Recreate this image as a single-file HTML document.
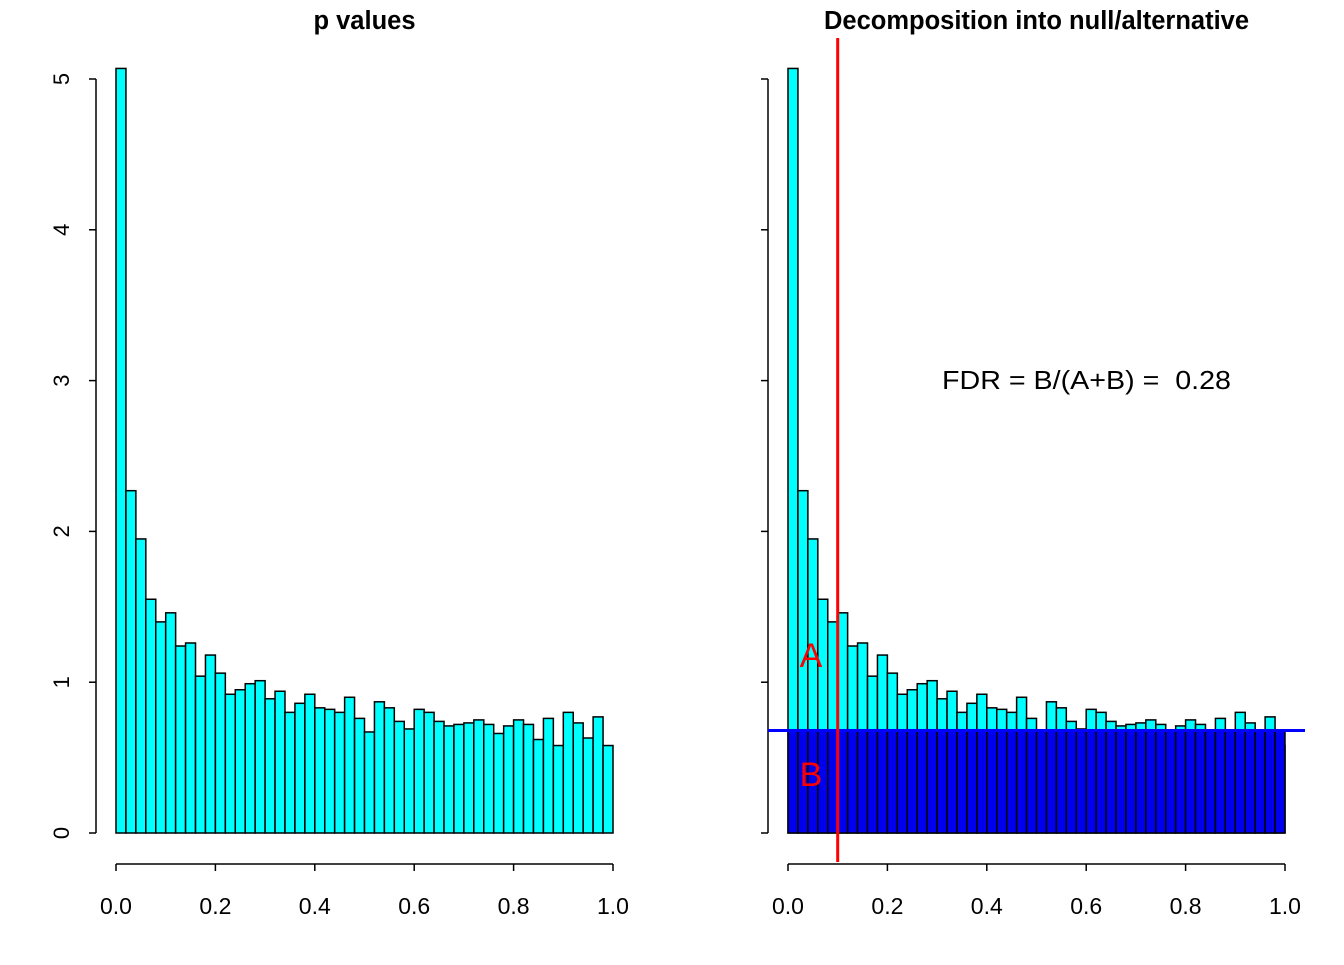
<!DOCTYPE html>
<html><head><meta charset="utf-8"><style>
body{margin:0;background:#fff}
text{font-family:"Liberation Sans",Arial,sans-serif;white-space:pre}
</style></head><body>
<svg id="c" width="1344" height="960" xmlns="http://www.w3.org/2000/svg"></svg>
<script>
const density=[5.07,2.27,1.95,1.55,1.40,1.46,1.24,1.26,1.04,1.18,1.06,0.92,0.95,0.99,1.01,0.89,0.94,0.80,0.86,0.92,0.83,0.82,0.80,0.90,0.76,0.67,0.87,0.83,0.74,0.69,0.82,0.80,0.74,0.71,0.72,0.73,0.75,0.72,0.66,0.71,0.75,0.72,0.62,0.76,0.58,0.80,0.73,0.63,0.77,0.58];
const nullLevel=0.68;
const threshold=0.1;
const xTicks=["0.0","0.2","0.4","0.6","0.8","1.0"];
const yTicks=[0,1,2,3,4,5];
const fdrValue="0.28";

const svg=document.getElementById('c');
const NS="http://www.w3.org/2000/svg";
function mk(t,a,p){const e=document.createElementNS(NS,t);for(const k in a)e.setAttribute(k,a[k]);(p||svg).appendChild(e);return e;}
const y=v=>833-v*150.8;
function panel(x0,name,title,decomp){
  const g=mk('g',{});
  
  
  const x=v=>x0+v*497;
  const n=density.length;
  density.forEach((d,i)=>{
    const r=mk('rect',{x:x(i/n),y:y(d),width:497/n,height:y(0)-y(d),fill:'#00FFFF',stroke:'#000','stroke-width':1.5},g);
    
    
  });
  if(decomp){
    density.forEach((d,i)=>{
      const r=mk('rect',{x:x(i/n),y:y(nullLevel),width:497/n,height:y(0)-y(nullLevel),fill:'#0000EE',stroke:'#000','stroke-width':1.5},g);
      
      
    });
  }
  const t=mk('text',{x:x(0.5),y:29,'text-anchor':'middle','font-size':25.5,'font-weight':'bold'},g);
  t.textContent=title;
  
  
  const ax=x0-20;
  mk('line',{x1:ax,x2:ax,y1:y(0),y2:y(5),stroke:'#000','stroke-width':1.5},g);
  yTicks.forEach(v=>{
    mk('line',{x1:ax-7,x2:ax,y1:y(v),y2:y(v),stroke:'#000','stroke-width':1.5},g);
    if(!decomp){
      const l=mk('text',{x:0,y:0,'text-anchor':'middle','font-size':22,transform:`translate(69,${y(v)}) rotate(-90)`},g);
      l.textContent=v;
      
      
    }
  });
  mk('line',{x1:x(0),x2:x(1),y1:864,y2:864,stroke:'#000','stroke-width':1.5},g);
  xTicks.forEach(s=>{
    const v=parseFloat(s);
    mk('line',{x1:x(v),x2:x(v),y1:864,y2:871,stroke:'#000','stroke-width':1.5},g);
    const l=mk('text',{x:x(v),y:914,'text-anchor':'middle','font-size':23},g);
    l.textContent=s;
    
    
  });
  if(decomp){
    const h=mk('line',{x1:768,x2:1305,y1:y(nullLevel),y2:y(nullLevel),stroke:'#0000FF','stroke-width':3},g);
    
    
    const vline=mk('line',{x1:x(threshold),x2:x(threshold),y1:38,y2:862,stroke:'#FF0000','stroke-width':3},g);
    
    
    const a=mk('text',{x:811,y:667,'text-anchor':'middle','font-size':34,fill:'#FF0000'},g);
    a.textContent='A';
    
    
    const b=mk('text',{x:811,y:786,'text-anchor':'middle','font-size':34,fill:'#FF0000'},g);
    b.textContent='B';
    
    
    const f=mk('text',{x:942,y:389,'font-size':26,textLength:289,lengthAdjust:'spacingAndGlyphs'},g);
    f.textContent='FDR = B/(A+B) =  '+fdrValue;
    
    
  }
}
panel(116,'left-panel','p values',false);
panel(788,'right-panel','Decomposition into null/alternative',true);
</script>
</body></html>
